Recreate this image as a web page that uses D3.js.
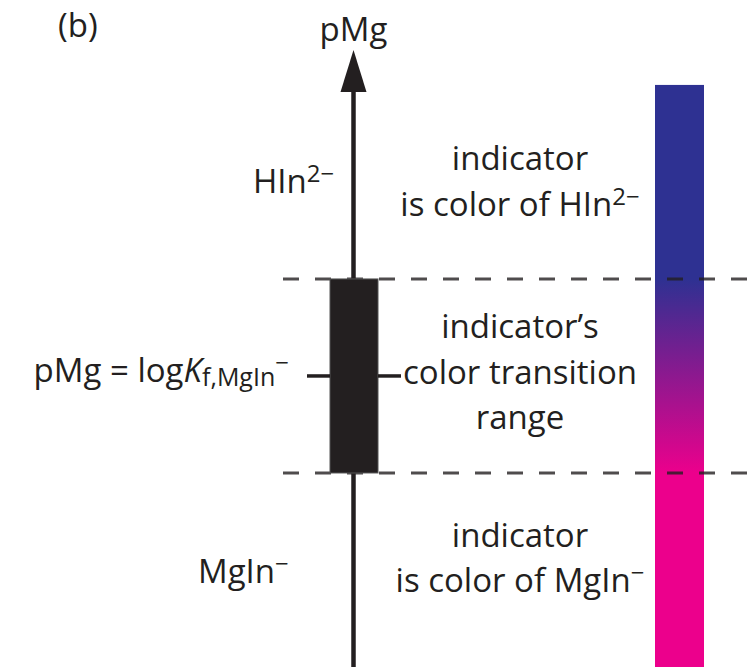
<!DOCTYPE html>
<html>
<head>
<meta charset="utf-8">
<script src="https://cdn.jsdelivr.net/npm/d3@7"></script>
<style>
  body { margin: 0; background: #fff; }
  text { font-family: "Open Sans", sans-serif; fill: #231f20; }
</style>
</head>
<body>
<svg width="748" height="667"></svg>
<script>
// pMg values (schematic units, logKf taken as 3)
var axisRange = [0, 6.36];
var logKf = 3;
var transitionRange = [logKf - 1, logKf + 1];
var colorBarRange = [0, 6];
var gradientPMg = [transitionRange[1], transitionRange[0]];
var gradientColors = ["#2e3192", "#ec008c"];

// labels: segments, sup/sub flags, it = italic
var panelLabel = "(b)";
var axisTitle = "pMg";
var speciesLabels = [
  { pMg: 4.97, segs: [{ t: "HIn" }, { t: "2\u2212", sup: true }] },
  { pMg: 0.95, segs: [{ t: "MgIn" }, { t: "\u2212", sup: true }] }
];
var logKLabel = [{ t: "pMg = log" }, { t: "K", it: true }, { t: "f,MgIn", sub: true }, { t: "\u2212", sup: true }];
var regionLabels = [
  { pMg: 4.97, lines: [[{ t: "indicator" }], [{ t: "is color of HIn" }, { t: "2\u2212", sup: true }]] },
  { pMg: logKf, lines: [[{ t: "indicator\u2019s" }], [{ t: "color transition" }], [{ t: "range" }]] },
  { pMg: 1.09, lines: [[{ t: "indicator" }], [{ t: "is color of MgIn" }, { t: "\u2212", sup: true }]] }
];

function main() {
  var svg = d3.select("svg"),
      fs = 33,
      lineH = 45.5,
      axisX = 353.5,
      textX = 520;

  var y = d3.scaleLinear().domain(axisRange).range([667, 50]);

  function rich(sel, segs) {
    var shift = 0;
    segs.forEach(function(s) {
      var target = s.sup ? -11 : s.sub ? 4 : 0;
      var size = s.sup ? 24 : s.sub ? 25 : fs;
      sel.append("tspan")
        .attr("dy", target - shift)
        .style("font-size", size + "px")
        .style("font-style", s.it ? "italic" : null)
        .text(s.t);
      shift = target;
    });
  }

  // gradient colour bar
  var grad = svg.append("defs").append("linearGradient")
    .attr("id", "bargrad")
    .attr("gradientUnits", "userSpaceOnUse")
    .attr("x1", 0).attr("x2", 0)
    .attr("y1", y(gradientPMg[0])).attr("y2", y(gradientPMg[1]));
  grad.selectAll("stop")
    .data(gradientColors)
    .enter().append("stop")
    .attr("offset", function(d, i) { return i / (gradientColors.length - 1); })
    .attr("stop-color", function(d) { return d; });

  svg.append("rect")
    .attr("x", 655)
    .attr("width", 49)
    .attr("y", y(colorBarRange[1]))
    .attr("height", y(colorBarRange[0]) - y(colorBarRange[1]))
    .attr("fill", "url(#bargrad)");

  // dashed boundaries of transition range
  svg.selectAll(".bound")
    .data(transitionRange)
    .enter().append("line")
    .attr("class", "bound")
    .attr("x1", 283).attr("x2", 748)
    .attr("y1", function(d) { return y(d); })
    .attr("y2", function(d) { return y(d); })
    .attr("stroke", "#231f20")
    .attr("stroke-opacity", 0.8)
    .attr("stroke-width", 3)
    .attr("stroke-dasharray", "16,16");

  // pMg axis with arrow
  svg.append("line")
    .attr("x1", axisX).attr("x2", axisX)
    .attr("y1", y(axisRange[0]))
    .attr("y2", y(axisRange[1]) + 40)
    .attr("stroke", "#231f20")
    .attr("stroke-width", 4.5);

  var tip = y(axisRange[1]);
  svg.append("path")
    .attr("d", "M" + axisX + "," + tip + "L" + (axisX + 13) + "," + (tip + 42) + "L" + (axisX - 13) + "," + (tip + 42) + "Z")
    .attr("fill", "#231f20");

  // transition box
  svg.append("rect")
    .attr("x", 330)
    .attr("width", 48)
    .attr("y", y(transitionRange[1]))
    .attr("height", y(transitionRange[0]) - y(transitionRange[1]))
    .attr("fill", "#231f20")
    .attr("stroke", "#555")
    .attr("stroke-width", 1);

  // ticks at logKf
  svg.append("line")
    .attr("x1", 307).attr("x2", 330)
    .attr("y1", y(logKf)).attr("y2", y(logKf))
    .attr("stroke", "#231f20").attr("stroke-width", 3.5);
  svg.append("line")
    .attr("x1", 378).attr("x2", 401)
    .attr("y1", y(logKf)).attr("y2", y(logKf))
    .attr("stroke", "#231f20").attr("stroke-width", 3.5);

  // texts
  svg.append("text")
    .attr("x", 58).attr("y", 37)
    .style("font-size", fs + "px")
    .text(panelLabel);

  svg.append("text")
    .attr("x", axisX).attr("y", 41)
    .attr("text-anchor", "middle")
    .style("font-size", fs + "px")
    .text(axisTitle);

  var speciesX = [253, 198];
  speciesLabels.forEach(function(d, i) {
    var t = svg.append("text")
      .attr("x", speciesX[i])
      .attr("y", y(d.pMg) + 8);
    rich(t, d.segs);
  });

  var lk = svg.append("text")
    .attr("x", 289)
    .attr("y", y(logKf) + 6)
    .attr("text-anchor", "end");
  rich(lk, logKLabel);

  regionLabels.forEach(function(d) {
    var n = d.lines.length,
        first = y(d.pMg) + 8 - (n - 1) * lineH / 2;
    d.lines.forEach(function(segs, j) {
      var t = svg.append("text")
        .attr("x", textX)
        .attr("y", first + j * lineH)
        .attr("text-anchor", "middle");
      rich(t, segs);
    });
  });
}
main();
</script>
</body>
</html>
